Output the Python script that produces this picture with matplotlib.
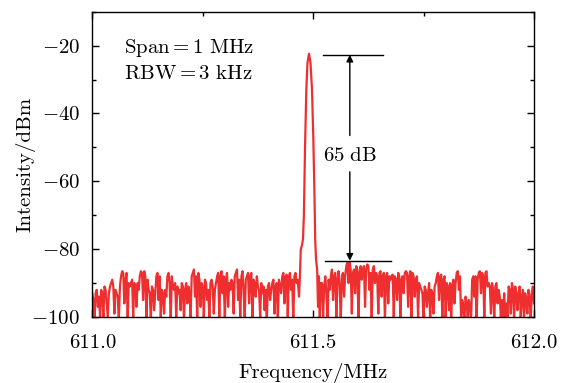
import numpy as np
import matplotlib
matplotlib.use("Agg")
import matplotlib.pyplot as plt
from matplotlib.ticker import MultipleLocator, FixedLocator, FixedFormatter

plt.rcParams['font.family'] = 'serif'
plt.rcParams['font.serif'] = ['cmr10']
plt.rcParams['mathtext.fontset'] = 'cm'
plt.rcParams['axes.unicode_minus'] = False

# noise floor left of the carrier, 611.000 .. 611.465 MHz, 2.5 kHz steps
noise_left = [
    -93, -95, -101, -93, -92, -97, -94, -100,
    -92, -93, -100, -91, -92, -96, -100, -93, -91,
    -90, -89, -91, -99, -92,
    -93, -94, -101, -91,
    -88, -86.5, -87, -96, -89, -87, -101, -90,
    -91, -90, -89, -100, -90, -91, -97, -90, -92,
    -88, -86.5, -87, -95, -86.5, -88, -100, -89,
    -92, -93, -101, -91, -92, -98, -93,
    -88, -87, -95, -88, -100,
    -92, -93, -99, -92, -94,
    -88, -87, -90, -101, -88, -91,
    -92, -90, -100, -91, -93, -92, -98, -90, -91, -101, -92, -90, -96, -91, -93, -100,
    -88, -87, -86, -94, -88, -101, -87, -89, -97,
    -90, -91, -100, -89, -90, -95, -92, -101, -90, -89, -91, -99, -92, -90,
    -88, -87, -100, -88, -86.5, -93, -88, -101, -89, -87, -97, -90, -92,
    -89, -90, -99, -88, -87, -86, -95, -89, -101, -88, -86.5, -92, -100, -89, -88,
    -87, -96, -88, -87, -101, -89, -90, -94, -88,
    -91, -92, -100, -90, -93, -91, -98, -92, -101, -91, -90, -95, -92,
    -90, -89, -99, -91, -90, -101, -89, -91, -93,
    -88, -87, -96, -88, -87.5, -100, -88, -87, -92, -89, -101, -88, -87, -90, -89,
]

# carrier peak
peak_freq = [611.4680, 611.4700, 611.4720, 611.4745, 611.4770, 611.4790,
             611.4816, 611.4845, 611.4872, 611.4906, 611.4940, 611.4974,
             611.5003, 611.5031, 611.5046, 611.5065, 611.5090, 611.5110,
             611.5130, 611.5150, 611.5170]
peak_db = [-94, -88, -80, -79, -77, -70, -50, -33, -25, -22.4, -25, -33,
           -47, -65, -77, -83, -86, -97, -88, -101, -90]

# noise floor right of the carrier, 611.520 .. 612.000 MHz
noise_right = [
    -90, -100, -91, -88, -93, -101, -89, -92,
    -88, -86, -95, -88, -87, -100, -89, -86.5, -91, -101, -88, -87, -94, -88,
    -85, -84, -90, -83.8, -86, -99,
    -87, -86, -93, -85, -86, -101, -87, -85, -89,
    -86, -85, -97, -86, -84.5, -85, -92, -87, -101, -86, -85, -90,
    -87, -88, -99, -87, -86.5, -94, -88, -87, -101, -88, -87, -96, -88, -89,
    -88, -87.5, -100, -88, -89, -95, -87, -88, -101, -89, -88, -93, -87,
    -86.5, -87, -97, -88, -86.5, -101, -87, -88, -94, -89, -88, -100, -90, -91,
    -92, -93, -101, -91, -92, -97, -93, -90, -101, -92, -93, -99, -91, -90,
    -88, -87, -95, -88, -87.5, -101, -89, -88, -100,
    -90, -91, -98, -90, -101, -91, -89, -96, -90,
    -87, -86.5, -92, -88, -101,
    -95, -97, -101, -94, -96, -100, -95, -97, -101,
    -89, -88, -94, -88, -101, -89,
    -87, -86.5, -93, -87, -88, -100, -87, -86.5, -91,
    -90, -91, -99, -90, -92, -101, -91, -90, -96, -92,
    -94, -100, -95, -101, -93, -100, -96, -101,
    -91, -92, -99, -90, -92, -101, -91, -93, -98,
    -93, -91, -100, -94, -92, -101, -93, -95, -99, -92, -94, -101, -93, -91, -96,
]

f_left = np.linspace(611.0, 611.465, len(noise_left))
f_right = np.linspace(611.52, 612.0, len(noise_right))
freq = np.concatenate([f_left, peak_freq, f_right])
power = np.concatenate([noise_left, peak_db, noise_right])

fs = 15

fig = plt.figure(figsize=(5.64, 3.83), dpi=100)
ax = fig.add_axes([0.1637, 0.1723, 0.9468 - 0.1637, 0.9695 - 0.1723])

ax.plot(freq, power, color='#EF2F2F', lw=1.6)

ax.set_xlim(611.0, 612.0)
ax.set_ylim(-100, -10)

ax.xaxis.set_major_locator(FixedLocator([611.0, 611.5, 612.0]))
ax.xaxis.set_major_formatter(FixedFormatter(['611.0', '611.5', '612.0']))
ax.xaxis.set_minor_locator(MultipleLocator(0.25))
yt = [-100, -80, -60, -40, -20]
ax.yaxis.set_major_locator(FixedLocator(yt))
ax.yaxis.set_major_formatter(FixedFormatter([r'$-%d$' % -v for v in yt]))
ax.yaxis.set_minor_locator(MultipleLocator(10))

ax.tick_params(which='both', direction='in', top=True, right=True,
               labelsize=fs, width=1.0)
ax.tick_params(which='major', length=5)
ax.tick_params(which='minor', length=3)
ax.tick_params(axis='x', which='major', pad=12)
ax.tick_params(axis='y', which='major', pad=9)
for s in ax.spines.values():
    s.set_linewidth(1.0)

ax.set_xlabel('Frequency/MHz', fontsize=fs)
ax.set_ylabel('Intensity/dBm', fontsize=fs)
ax.xaxis.set_label_coords(0.5, -0.151)
ax.yaxis.set_label_coords(-0.1297, 0.5)

ax.text(611.072, -20.6, r'$\mathrm{Span} = 1\ \mathrm{MHz}$', fontsize=fs, va='center')
ax.text(611.072, -28.3, r'$\mathrm{RBW} = 3\ \mathrm{kHz}$', fontsize=fs, va='center')

# 65 dB marker
top_db = -22.7
bot_db = -83.4
ax.plot([611.523, 611.657], [top_db, top_db], color='black', lw=1.0)
ax.plot([611.527, 611.676], [bot_db, bot_db], color='black', lw=1.0)
xa = 611.583
ax.annotate('', xy=(xa, top_db), xytext=(xa, -46.5),
            arrowprops=dict(arrowstyle='-|>', color='black', lw=1.0,
                            mutation_scale=10, shrinkA=0, shrinkB=0))
ax.annotate('', xy=(xa, bot_db), xytext=(xa, -57.2),
            arrowprops=dict(arrowstyle='-|>', color='black', lw=1.0,
                            mutation_scale=10, shrinkA=0, shrinkB=0))
ax.text(xa, -52.4, r'$65\ \mathrm{dB}$', fontsize=fs, ha='center', va='center')

fig.savefig('out.png', dpi=100)
